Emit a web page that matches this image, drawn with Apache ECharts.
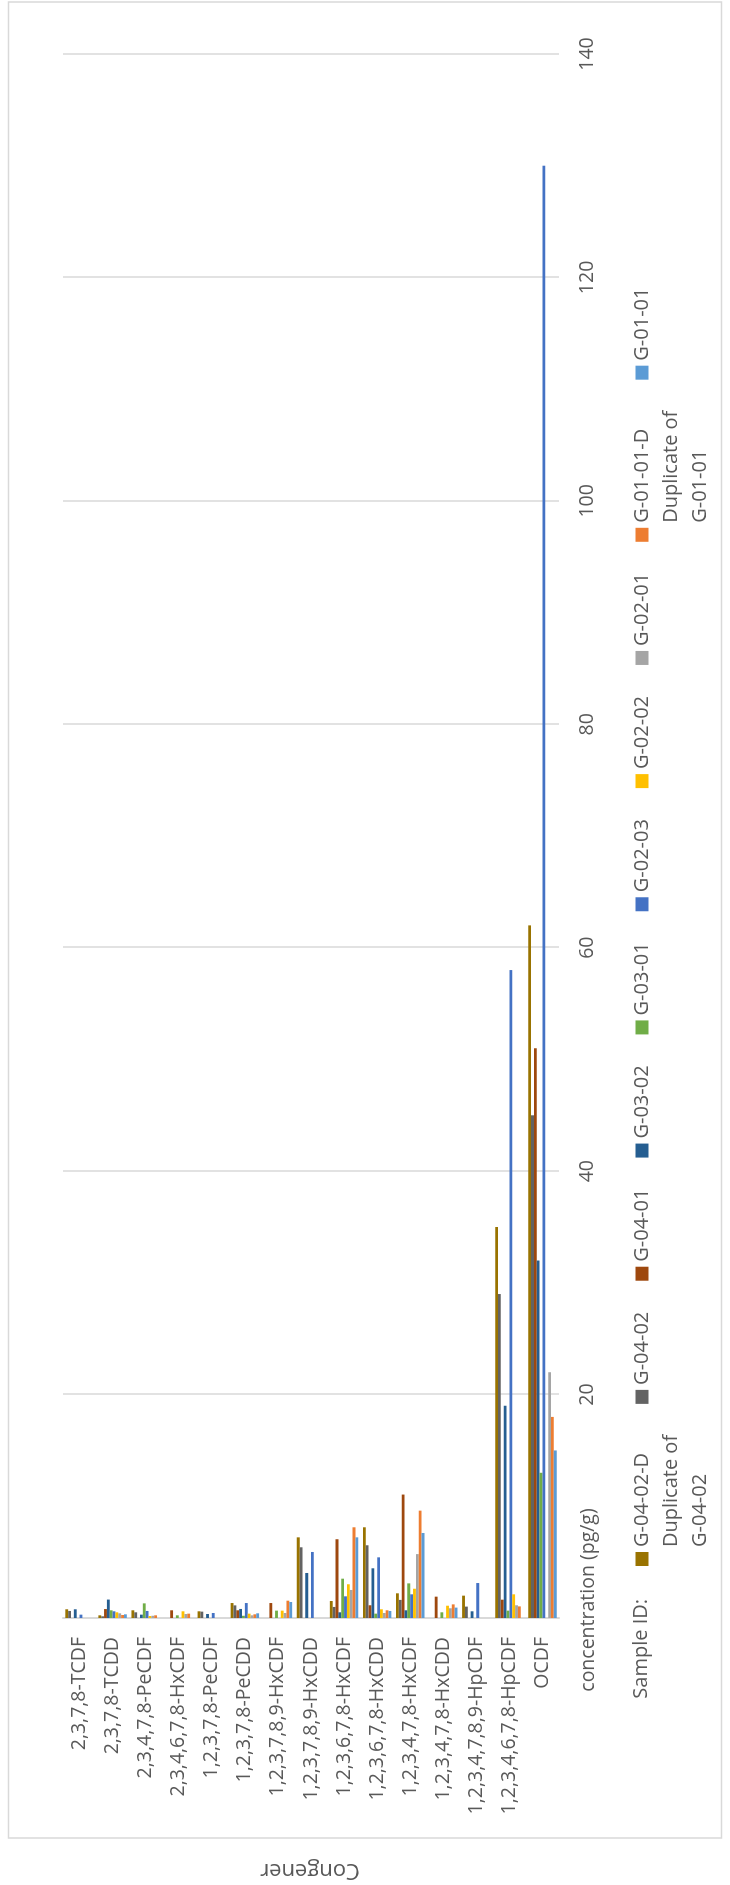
<!DOCTYPE html>
<html>
<head>
<meta charset="utf-8">
<script src="https://cdn.jsdelivr.net/npm/echarts@6/dist/echarts.min.js"></script>
<style>
html,body{margin:0;padding:0;background:#fff;overflow:hidden;width:730px;height:1885px;}
#wrap{position:absolute;left:0;top:0;width:1885px;height:730px;transform-origin:0 0;transform:translateY(1885px) rotate(-90deg);}
</style>
</head>
<body>
<div id="wrap"></div>
<script>
// ---- data ----
var categories = [
  '2,3,7,8-TCDF','2,3,7,8-TCDD','2,3,4,7,8-PeCDF','2,3,4,6,7,8-HxCDF','1,2,3,7,8-PeCDF',
  '1,2,3,7,8-PeCDD','1,2,3,7,8,9-HxCDF','1,2,3,7,8,9-HxCDD','1,2,3,6,7,8-HxCDF','1,2,3,6,7,8-HxCDD',
  '1,2,3,4,7,8-HxCDF','1,2,3,4,7,8-HxCDD','1,2,3,4,7,8,9-HpCDF','1,2,3,4,6,7,8-HpCDF','OCDF'
];
var seriesNames = ['G-04-02-D','G-04-02','G-04-01','G-03-02','G-03-01','G-02-03','G-02-02','G-02-01','G-01-01-D','G-01-01'];
var seriesNotes = {'G-04-02-D':'Duplicate of\nG-04-02','G-01-01-D':'Duplicate of\nG-01-01'};
var seriesColors = ['#997300','#636363','#9E480E','#255E91','#70AD47','#4472C4','#FFC000','#A5A5A5','#ED7D31','#5B9BD5'];

var vG0402D = [0.78,0.24,0.69,0,0.6,1.34,0,7.22,1.52,8.12,2.21,0,2.0,35,62];
var vG0402  = [0.63,0.15,0.51,0,0.57,1.13,0,6.33,0.99,6.51,1.62,0,1.02,29,45];
var vG0401  = [0,0.8,0,0.69,0,0.69,1.34,0,7.05,1.14,11.05,1.91,0,1.64,51];
var vG0302  = [0.78,1.65,0.3,0,0.36,0.81,0,4.03,0.51,4.45,0.69,0,0.6,19,32];
var vG0301  = [0,0.69,1.31,0.24,0,0.2,0.66,0,3.52,0.39,3.1,0.51,0,0.66,13];
var vG0203  = [0.3,0.6,0.63,0,0.45,1.34,0,5.91,1.94,5.43,2.12,0,3.13,58,130];
var vG0202  = [0,0.51,0.18,0.6,0,0.39,0.66,0,3.02,0.78,2.62,1.1,0,2.12,0];
var vG0201  = [0,0.42,0.2,0.36,0,0.24,0.45,0,2.51,0.45,5.72,0.87,0,1.14,22];
var vG0101D = [0,0.27,0.24,0.39,0,0.33,1.55,0,8.12,0.69,9.61,1.22,0,1.04,18];
var vG0101  = [0,0.33,0,0,0,0.42,1.43,0,7.22,0.63,7.61,0.93,0,0,15];
var seriesValues = [vG0402D,vG0402,vG0401,vG0302,vG0301,vG0203,vG0202,vG0201,vG0101D,vG0101];

var axisMin = 0, axisMax = 140, axisStep = 20;
var valueAxisTitle = 'concentration (pg/g)';
var categoryAxisTitle = 'Congener';
var legendTitle = 'Sample ID:';

// ---- chart ----
var FONT = 'Open Sans';
var TXT = '#595959';
var chart = echarts.init(document.getElementById('wrap'), null, {renderer:'canvas', width:1885, height:730});

var series = seriesNames.map(function(n,i){
  return {
    name:n, type:'bar', data:seriesValues[i],
    itemStyle:{color:seriesColors[i]},
    barGap:'0%', barCategoryGap:'14%',
    animation:false
  };
});

chart.setOption({
  animation:false,
  backgroundColor:'#ffffff',
  grid:{left:267, right:54, top:63, bottom:171, containLabel:false},
  xAxis:{
    type:'value', min:axisMin, max:axisMax, interval:axisStep,
    axisLine:{show:false}, axisTick:{show:false},
    splitLine:{lineStyle:{color:'#d9d9d9', width:1.5}},
    axisLabel:{fontFamily:FONT, fontSize:19.5, color:TXT, margin:18, showMinLabel:false}
  },
  yAxis:{
    type:'category', data:categories, inverse:true,
    axisLine:{show:true, lineStyle:{color:'#d9d9d9', width:2}},
    axisTick:{show:false},
    axisLabel:{fontFamily:FONT, fontSize:19.5, color:TXT, margin:19}
  },
  legend:{
    data:seriesNames, icon:'rect', orient:'horizontal', left:319, top:569.5, padding:0,
    itemWidth:14, itemHeight:13, itemGap:31, selectedMode:false,
    formatter:function(n){ return seriesNotes[n] ? '\n\n' + n + '\n' + seriesNotes[n] : n; },
    textStyle:{fontFamily:FONT, fontSize:20, color:TXT, lineHeight:29}
  },
  graphic:[
    {type:'rect', shape:{x:47, y:8.5, width:1836, height:713}, style:{fill:'none', stroke:'#d9d9d9', lineWidth:1.5}, silent:true},
    {type:'text', x:285, y:588, style:{text:valueAxisTitle, fontFamily:FONT, fontSize:19.5, fill:TXT, align:'center', verticalAlign:'middle'}},
    {type:'text', x:286, y:641, style:{text:legendTitle, fontFamily:FONT, fontSize:20, fill:TXT, align:'right', verticalAlign:'middle'}},
    {type:'text', x:15, y:310, rotation:Math.PI/2, style:{text:categoryAxisTitle, fontFamily:FONT, fontSize:22, fill:TXT, align:'center', verticalAlign:'middle'}}
  ],
  series:series
});
</script>
</body>
</html>
